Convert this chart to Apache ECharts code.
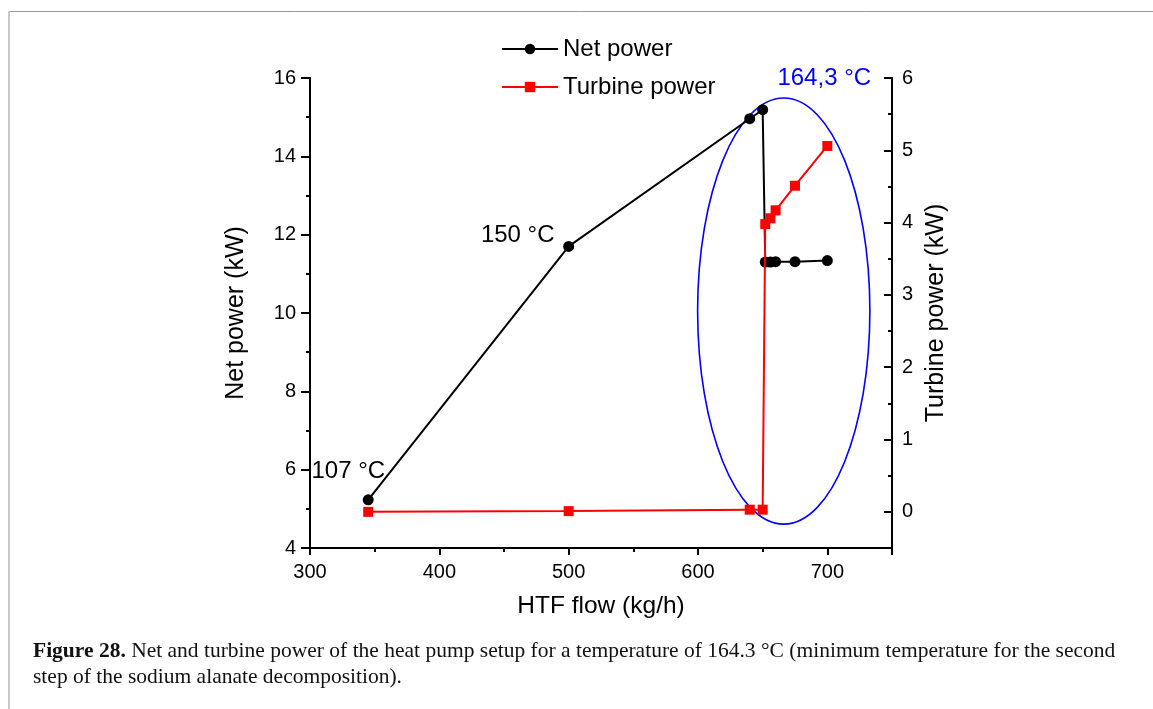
<!DOCTYPE html>
<html>
<head>
<meta charset="utf-8">
<title>Net and turbine power vs HTF flow</title>
<script src="https://cdn.jsdelivr.net/npm/echarts@6.0.0/dist/echarts.min.js"></script>
<style>
  html, body { margin: 0; padding: 0; background: #fff; }
  #chart { width: 1153px; height: 709px; }
</style>
</head>
<body>
<div id="chart"></div>
<script>
// operating points, HTF flow in kg/h
const htfFlow = [345, 500, 640, 650, 652, 656, 660, 675, 700]
// left axis (kW)
const netPower = [5.23, 11.70, 14.96, 15.19, 11.30, 11.30, 11.31, 11.31, 11.34]
// right axis (kW)
const turbinePower = [0.00, 0.01, 0.03, 0.03, 3.98, 4.06, 4.17, 4.51, 5.06]

// axis ranges and labelled ticks
const xRange = [300, 750]
const xTickLabels = [300, 400, 500, 600, 700]
const netRange = [4, 16]
const turbineRange = [-0.5, 6]
const turbineTickLabels = [0, 1, 2, 3, 4, 5, 6]

// temperature notes, placed in data coordinates (left axis)
const tempLabels = ['107 °C', '150 °C', '164,3 °C']
const tempLabelX = [330, 461, 698]
const tempLabelY = [5.94, 11.98, 15.97]

// ellipse marking the 164,3 °C region: centre and radii in data units
const ringCenter = [666.3, 10.05]
const ringRadius = [66.6, 5.44]

const sans = '"Liberation Sans", Arial, sans-serif'
const serif = '"Liberation Serif", "Times New Roman", serif'
const black = '#000'

const chart = echarts.init(document.getElementById('chart'))

const gridBox = { left: 310, top: 78, width: 582, height: 470, outerBoundsMode: 'none', containLabel: false }

function renderRing(params, api) {
  const c = api.coord([api.value(0), api.value(1)])
  const r = api.size([api.value(2), api.value(3)])
  return {
    type: 'ellipse',
    shape: { cx: c[0], cy: c[1], rx: r[0], ry: r[1] },
    style: { fill: 'none', stroke: '#0000ff', lineWidth: 1.6 }
  }
}

const option = {
  backgroundColor: '#fff',
  animation: false,
  grid: [gridBox, Object.assign({}, gridBox)],
  legend: {
    data: ['Net power', 'Turbine power'],
    orient: 'vertical',
    left: 496,
    top: 32,
    itemWidth: 56,
    itemHeight: 13,
    itemGap: 14,
    textStyle: { fontFamily: sans, fontSize: 24, color: black }
  },
  xAxis: [
    {
      // short ticks every 50 and the labels
      type: 'value',
      gridIndex: 0,
      min: xRange[0],
      max: xRange[1],
      interval: 50,
      name: 'HTF flow (kg/h)',
      nameLocation: 'middle',
      nameGap: 46,
      nameTextStyle: { fontFamily: sans, fontSize: 24.5, color: black },
      axisLine: { onZero: false, lineStyle: { color: black, width: 2 } },
      axisTick: { length: 4, lineStyle: { color: black, width: 2 } },
      axisLabel: {
        fontFamily: sans, fontSize: 20, color: black, margin: 14,
        formatter: v => (xTickLabels.includes(v) ? String(v) : '')
      },
      splitLine: { show: false }
    },
    {
      // long ticks every 100
      type: 'value',
      gridIndex: 1,
      min: xRange[0],
      max: xRange[1],
      interval: 100,
      axisLine: { show: false, onZero: false },
      axisTick: { length: 7, lineStyle: { color: black, width: 2 } },
      axisLabel: { show: false },
      splitLine: { show: false }
    }
  ],
  yAxis: [
    {
      type: 'value',
      gridIndex: 0,
      position: 'left',
      min: netRange[0],
      max: netRange[1],
      interval: 2,
      name: 'Net power (kW)',
      nameLocation: 'middle',
      nameGap: 61,
      nameTextStyle: { fontFamily: sans, fontSize: 25, color: black },
      axisLine: { show: true, onZero: false, lineStyle: { color: black, width: 2 } },
      axisTick: { show: true, length: 9, lineStyle: { color: black, width: 2 } },
      minorTick: { show: true, splitNumber: 2, length: 4, lineStyle: { color: black, width: 2 } },
      axisLabel: { fontFamily: sans, fontSize: 20, color: black, margin: 14 },
      splitLine: { show: false }
    },
    {
      // short inside ticks every 0.5 and the labels
      type: 'value',
      gridIndex: 0,
      position: 'right',
      min: turbineRange[0],
      max: turbineRange[1],
      interval: 0.5,
      name: 'Turbine power (kW)',
      nameLocation: 'middle',
      nameGap: 31,
      nameTextStyle: { fontFamily: sans, fontSize: 25, color: black },
      axisLine: { show: true, onZero: false, lineStyle: { color: black, width: 2 } },
      axisTick: { show: true, inside: true, length: 4, lineStyle: { color: black, width: 2 } },
      axisLabel: {
        fontFamily: sans, fontSize: 20, color: black, margin: 10,
        formatter: v => (turbineTickLabels.includes(v) ? String(v) : '')
      },
      splitLine: { show: false }
    },
    {
      // long inside ticks on whole kW
      type: 'value',
      gridIndex: 1,
      position: 'right',
      min: turbineRange[0],
      max: turbineRange[1],
      minInterval: 1,
      maxInterval: 1,
      axisLine: { show: false, onZero: false },
      axisTick: { show: true, inside: true, length: 8, lineStyle: { color: black, width: 2 } },
      axisLabel: { show: false },
      splitLine: { show: false }
    }
  ],
  series: [
    {
      type: 'custom',
      name: 'ring',
      xAxisIndex: 0,
      yAxisIndex: 0,
      silent: true,
      renderItem: renderRing,
      data: [[ringCenter[0], ringCenter[1], ringRadius[0], ringRadius[1]]],
      z: 1
    },
    {
      type: 'line',
      name: 'Net power',
      xAxisIndex: 0,
      yAxisIndex: 0,
      data: htfFlow.map((x, i) => [x, netPower[i]]),
      color: black,
      lineStyle: { color: black, width: 2 },
      symbol: 'circle',
      symbolSize: 11,
      itemStyle: { color: black },
      z: 3
    },
    {
      type: 'line',
      name: 'Turbine power',
      xAxisIndex: 0,
      yAxisIndex: 1,
      data: htfFlow.map((x, i) => [x, turbinePower[i]]),
      color: '#ff0000',
      lineStyle: { color: '#ff0000', width: 2 },
      symbol: 'rect',
      symbolSize: 10,
      itemStyle: { color: '#ff0000' },
      z: 4
    },
    {
      type: 'scatter',
      name: 'notes',
      xAxisIndex: 0,
      yAxisIndex: 0,
      silent: true,
      symbolSize: 1,
      itemStyle: { color: 'rgba(0,0,0,0)', opacity: 1 },
      data: tempLabels.map((t, i) => ({
        name: t,
        value: [tempLabelX[i], tempLabelY[i]],
        label: { color: i === 2 ? '#0000ff' : black }
      })),
      label: {
        show: true,
        position: [0, 0],
        align: 'center',
        verticalAlign: 'middle',
        formatter: '{b}',
        fontFamily: sans,
        fontSize: 24,
        textBorderWidth: 0
      },
      z: 5
    }
  ],
  graphic: [
    // page frame
    { type: 'line', shape: { x1: 8, y1: 11.5, x2: 1153, y2: 11.5 }, style: { stroke: '#999', lineWidth: 1 }, silent: true },
    { type: 'line', shape: { x1: 9, y1: 11, x2: 9, y2: 709 }, style: { stroke: '#c8c8c8', lineWidth: 2 }, silent: true },
    {
      type: 'text',
      left: 33,
      top: 638,
      silent: true,
      style: {
        text: '{b|Figure 28.} Net and turbine power of the heat pump setup for a temperature of 164.3 °C (minimum temperature for the second\nstep of the sodium alanate decomposition).',
        fontFamily: serif,
        fontSize: 21.5,
        lineHeight: 26,
        fill: '#111',
        rich: {
          b: { fontFamily: serif, fontSize: 21.5, fontWeight: 'bold', lineHeight: 26, fill: '#111' }
        }
      }
    }
  ]
}

chart.setOption(option)
</script>
</body>
</html>
